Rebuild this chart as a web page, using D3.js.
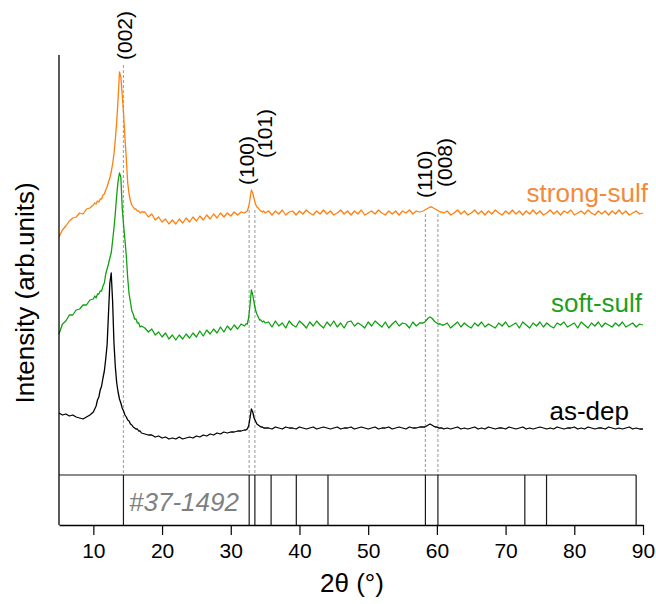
<!DOCTYPE html>
<html>
<head>
<meta charset="utf-8">
<script src="https://cdn.jsdelivr.net/npm/d3@7"></script>
<style>
body { margin: 0; background: #fff; }
svg { display: block; font-family: "Liberation Sans", Arial, sans-serif; }
</style>
</head>
<body>
<svg class="visSVG"></svg>
<script>
const svgWidth = 656;
const svgHeight = 604;

// 2theta grid (deg), finer around the peaks
var twoTheta = [
    5, 5.5, 6, 6.5, 7, 7.5, 8, 8.5, 9, 9.5, 10,
    10.2, 10.4, 10.6, 10.8, 11, 11.2, 11.4, 11.6, 11.8, 12, 12.2, 12.4, 12.6, 12.8, 13, 13.2, 13.4, 13.6, 13.8, 14, 14.2, 14.4, 14.6, 14.8, 15, 15.2, 15.4, 15.6, 15.8, 16, 16.2, 16.4, 16.6, 16.8, 17,
    17.5, 18, 18.5, 19, 19.5, 20, 20.5, 21, 21.5, 22, 22.5, 23, 23.5, 24, 24.5, 25, 25.5, 26, 26.5, 27, 27.5, 28, 28.5, 29, 29.5, 30, 30.5, 31, 31.5,
    32, 32.2, 32.4, 32.6, 32.8, 33, 33.2, 33.4, 33.6, 33.8, 34, 34.2, 34.4, 34.6, 34.8, 35,
    35.5, 36, 36.5, 37, 37.5, 38, 38.5, 39, 39.5, 40, 40.5, 41, 41.5, 42, 42.5, 43, 43.5, 44, 44.5, 45, 45.5, 46, 46.5, 47, 47.5, 48, 48.5, 49, 49.5, 50, 50.5, 51, 51.5, 52, 52.5, 53, 53.5, 54, 54.5, 55, 55.5, 56, 56.5, 57, 57.5,
    58, 58.25, 58.5, 58.75, 59, 59.25, 59.5, 59.75, 60, 60.25, 60.5, 60.75, 61,
    61.5, 62, 62.5, 63, 63.5, 64, 64.5, 65, 65.5, 66, 66.5, 67, 67.5, 68, 68.5, 69, 69.5, 70, 70.5, 71, 71.5, 72, 72.5, 73, 73.5, 74, 74.5, 75, 75.5, 76, 76.5, 77, 77.5, 78, 78.5, 79, 79.5, 80, 80.5, 81, 81.5, 82, 82.5, 83, 83.5, 84, 84.5, 85, 85.5, 86, 86.5, 87, 87.5, 88, 88.5, 89, 89.5, 90
];

// intensities (arb. units, offset already applied)
var asDep = [
    62, 60, 61, 59, 60, 58, 57, 56, 58, 60, 63,
    66, 69, 75, 78, 85, 89, 97, 104, 116, 130, 161, 192, 202, 174, 132, 108, 92, 83, 76, 72, 67, 64, 60, 58, 55, 54, 51, 50, 48, 47, 46, 46, 44, 44, 42,
    41, 40, 40, 38, 39, 37, 38, 36, 37, 36, 38, 36, 37, 38, 37, 39, 38, 40, 39, 41, 40, 42, 41, 43, 42, 43, 43, 44, 44,
    45, 45, 46, 49, 57, 66, 63, 57, 54, 51, 50, 49, 48, 48, 47, 47,
    47, 46, 48, 47, 46, 48, 47, 47, 46, 48, 47, 46, 47, 48, 46, 47, 48, 47, 46, 47, 48, 46, 47, 47, 48, 46, 47, 48, 47, 46, 47, 48, 46, 47, 47, 48, 46, 47, 48, 47, 46, 48, 47, 47, 48,
    48, 48, 49, 50, 51, 50, 49, 48, 48, 47, 47, 47, 46,
    47, 46, 47, 48, 46, 47, 46, 47, 48, 46, 47, 46, 48, 47, 46, 47, 47, 46, 48, 47, 46, 47, 48, 46, 47, 46, 47, 48, 47, 46, 47, 46, 48, 47, 46, 47, 47, 48, 46, 47, 46, 48, 47, 46, 47, 47, 46, 48, 47, 46, 47, 46, 47, 48, 46, 47, 46, 46
];

var softSulf = [
    141, 151, 154, 160, 160, 165, 166, 170, 170, 175, 176,
    179, 177, 181, 181, 184, 184, 189, 192, 201, 206, 211, 217, 222, 234, 247, 262, 280, 294, 302, 298, 267, 250, 235, 219, 197, 181, 173, 164, 161, 156, 156, 152, 152, 148, 149,
    147, 143, 146, 140, 143, 138, 142, 136, 140, 135, 140, 136, 141, 137, 142, 138, 144, 139, 145, 141, 146, 142, 148, 143, 149, 145, 150, 146, 151,
    149, 151, 151, 157, 170, 185, 180, 172, 165, 161, 158, 155, 155, 153, 154, 152,
    153, 148, 154, 149, 152, 147, 154, 150, 148, 154, 151, 147, 153, 149, 154, 150, 147, 153, 149, 154, 148, 152, 147, 153, 154, 149, 152, 150, 147, 153, 149, 154, 151, 148, 153, 147, 151, 154, 149, 152, 151, 147, 153, 149, 152,
    152, 153, 155, 157, 158, 157, 155, 153, 152, 151, 151, 150, 150,
    152, 147, 150, 153, 148, 152, 149, 147, 152, 149, 153, 148, 151, 149, 147, 152, 149, 153, 148, 150, 152, 147, 153, 150, 147, 152, 149, 153, 148, 152, 149, 147, 152, 150, 153, 148, 150, 152, 147, 153, 150, 147, 152, 149, 153, 148, 152, 150, 148, 152, 149, 153, 148, 150, 152, 148, 151, 150
];

var strongSulf = [
    238, 245, 249, 254, 257, 258, 262, 261, 266, 267, 270,
    272, 271, 274, 273, 276, 276, 280, 281, 285, 288, 293, 297, 303, 311, 321, 336, 353, 376, 403, 398, 380, 361, 337, 316, 292, 281, 274, 270, 268, 266, 266, 264, 264, 262, 263,
    263, 258, 261, 255, 258, 253, 256, 251, 255, 251, 256, 252, 257, 253, 258, 254, 259, 255, 260, 256, 261, 257, 262, 258, 262, 259, 263, 260, 263,
    262, 263, 264, 268, 276, 285, 282, 276, 271, 268, 267, 265, 264, 263, 264, 262,
    264, 260, 264, 261, 265, 260, 263, 264, 260, 264, 261, 265, 262, 260, 264, 261, 265, 261, 264, 260, 262, 265, 261, 264, 260, 264, 261, 265, 260, 262, 264, 261, 265, 262, 260, 264, 261, 264, 260, 264, 262, 265, 261, 264, 263,
    264, 265, 266, 267, 268, 268, 267, 266, 265, 264, 263, 263, 262,
    264, 260, 262, 265, 261, 264, 260, 262, 265, 261, 264, 260, 264, 261, 265, 262, 260, 264, 261, 265, 261, 264, 260, 264, 261, 265, 261, 264, 260, 262, 265, 261, 264, 260, 264, 262, 265, 260, 262, 264, 261, 265, 262, 260, 264, 261, 264, 260, 264, 261, 265, 261, 264, 260, 262, 264, 261, 262
];

var seriesNames = ["as-dep", "soft-sulf", "strong-sulf"];

// JCPDS #37-1492 stick positions
var refCard = "#37-1492";
var refPeaks = [14.38, 32.68, 33.51, 35.87, 39.54, 44.15, 58.33, 60.15, 72.8, 75.96, 89.0];

var hklNames = ["(002)", "(100)", "(101)", "(110)", "(008)"];
var hklPos = [14.38, 32.68, 33.51, 58.33, 60.15];

var majorTicks = [10, 20, 30, 40, 50, 60, 70, 80, 90];
var minorTicks = [6, 8, 12, 14, 16, 18, 22, 24, 26, 28, 32, 34, 36, 38, 42, 44, 46, 48, 52, 54, 56, 58, 62, 64, 66, 68, 72, 74, 76, 78, 82, 84, 86, 88];

console.log(twoTheta.length, asDep.length, softSulf.length, strongSulf.length);

const svg = d3.select('.visSVG')
    .attr("width", svgWidth)
    .attr("height", svgHeight);

var axisY = 525;     // x axis line
var plotTop = 55;    // top of y axis
var refTop = 475;    // top of the stick box

const xScale = d3.scaleLinear()
    .domain([5, 90])
    .range([59, 643]);

const yScale = d3.scaleLinear()
    .domain([0, 420])
    .range([refTop, plotTop]);

// label styling (placement only)
var colours = {"as-dep": "#000000", "soft-sulf": "#11a011", "strong-sulf": "#ff7f0e"};
var labelColours = {"as-dep": "#000000", "soft-sulf": "#1e9e1e", "strong-sulf": "#f28a3c"};
var labelPos = {"as-dep": [629, 420], "soft-sulf": [642, 312], "strong-sulf": [648, 202]};
var hklDx = [3, -1, 12, 1.5, 9];
var hklBottom = [60, 185, 158, 198, 187];
var dashTop = [65, 210, 210, 214, 214];

// DASHED hkl LINES

var dashes = svg.append("g");
hklPos.forEach(function(p, i) {
    dashes.append("line")
        .attr("x1", xScale(p)).attr("x2", xScale(p))
        .attr("y1", dashTop[i]).attr("y2", refTop)
        .attr("stroke", "#a9a9a9")
        .attr("stroke-width", 1.2)
        .attr("stroke-dasharray", "3,2");
    dashes.append("text")
        .text(hklNames[i])
        .attr("transform", "translate(" + (xScale(p) + hklDx[i] + 5.5) + "," + hklBottom[i] + ") rotate(-90)")
        .attr("font-size", 21)
        .attr("fill", "#000");
});

// CURVES

var series = [asDep, softSulf, strongSulf];
var line = d3.line()
    .x(function(d, i) { return xScale(twoTheta[i]); })
    .y(function(d) { return yScale(d); });

series.forEach(function(s, k) {
    var name = seriesNames[k];
    svg.append("path")
        .datum(s)
        .attr("d", line)
        .attr("fill", "none")
        .attr("stroke", colours[name])
        .attr("stroke-width", 1.3)
        .attr("stroke-linejoin", "round");
    svg.append("text")
        .text(name)
        .attr("x", labelPos[name][0])
        .attr("y", labelPos[name][1])
        .attr("text-anchor", "end")
        .attr("font-size", 26)
        .attr("fill", labelColours[name]);
});

// REFERENCE STICKS

var ref = svg.append("g")
    .attr("stroke", "#1a1a1a")
    .attr("stroke-width", 1.2);
ref.append("line")
    .attr("x1", xScale(5)).attr("x2", xScale(d3.max(refPeaks)))
    .attr("y1", refTop).attr("y2", refTop);
ref.selectAll(".stick")
    .data(refPeaks).enter().append("line")
        .attr("class", "stick")
        .attr("x1", function(d) { return xScale(d); })
        .attr("x2", function(d) { return xScale(d); })
        .attr("y1", refTop)
        .attr("y2", axisY);
svg.append("text")
    .text(refCard)
    .attr("x", 129)
    .attr("y", 511)
    .attr("font-size", 26)
    .attr("font-style", "italic")
    .attr("fill", "#7f7f7f");

// AXES

var xAxis = svg.append("g")
    .attr("transform", "translate(0," + axisY + ")");
xAxis.call(d3.axisBottom(xScale).tickValues(minorTicks).tickSize(6).tickFormat(""));
xAxis.call(d3.axisBottom(xScale).tickValues(majorTicks).tickSize(10).tickSizeOuter(0).tickPadding(8));
xAxis.selectAll(".domain").attr("stroke-width", 1.3);
xAxis.selectAll("line").attr("stroke-width", 1.2);
xAxis.selectAll("text")
    .attr("font-size", 21)
    .attr("font-family", "Liberation Sans, Arial, sans-serif")
    .attr("fill", "#000");

svg.append("line")
    .attr("x1", xScale(5)).attr("x2", xScale(5))
    .attr("y1", plotTop).attr("y2", axisY)
    .attr("stroke", "#000")
    .attr("stroke-width", 1.3);

svg.append("text")
    .text("2θ (°)")
    .attr("x", 352)
    .attr("y", 592)
    .attr("text-anchor", "middle")
    .attr("font-size", 26);

svg.append("text")
    .text("Intensity (arb.units)")
    .attr("transform", "translate(34,293) rotate(-90)")
    .attr("text-anchor", "middle")
    .attr("font-size", 26);
</script>
</body>
</html>
